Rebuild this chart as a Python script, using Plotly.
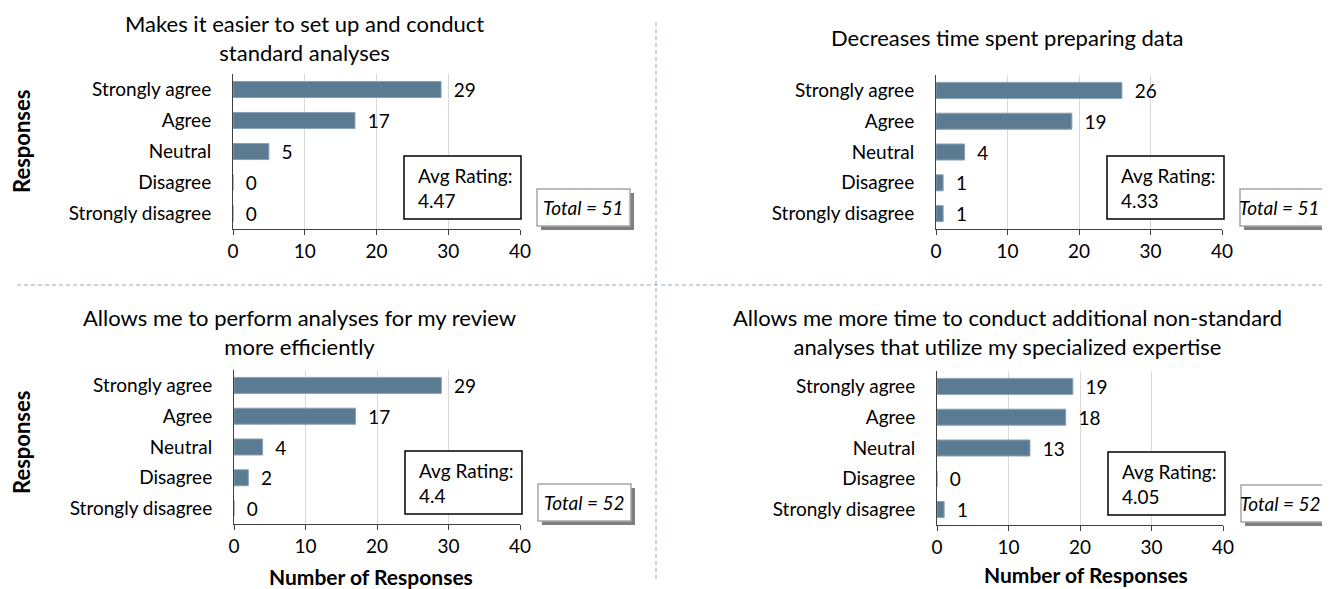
import plotly.graph_objects as go

categories = ["Strongly agree", "Agree", "Neutral", "Disagree", "Strongly disagree"]
titles = [
    "Makes it easier to set up and conduct<br>standard analyses",
    "Decreases time spent preparing data",
    "Allows me to perform analyses for my review<br>more efficiently",
    "Allows me more time to conduct additional non-standard<br>analyses that utilize my specialized expertise",
]
values_1 = [29, 17, 5, 0, 0]
values_2 = [26, 19, 4, 1, 1]
values_3 = [29, 17, 4, 2, 0]
values_4 = [19, 18, 13, 0, 1]
avg_ratings = ["4.47", "4.33", "4.4", "4.05"]
totals = [51, 51, 52, 52]
x_ticks = [0, 10, 20, 30, 40]

# the page body has an 8px margin: the figure starts at page (8, 8)
OFF = 8
W, H = 1330 - OFF, 589 - OFF
FONT = "Lato"
BAR = "#5b7b93"

# panel plot-area geometry in page pixels: (x0, x1, ytop, ybottom)
panels = [
    (233, 520, 74, 229),
    (936, 1222, 75, 229),
    (234, 520, 370, 524),
    (937, 1223, 371, 525),
]
title_pos = [(304, 38), (1007, 37), (299, 332), (1008, 332)]
series = [values_1, values_2, values_3, values_4]

def px(x):
    return (x - OFF) / W

def py(y):
    return 1 - (y - OFF) / H

fig = go.Figure()
shapes = []
annotations = []

for i, (vals, (x0, x1, yt, yb)) in enumerate(zip(series, panels)):
    n = "" if i == 0 else str(i + 1)
    fig.add_trace(go.Bar(
        x=vals, y=categories, orientation="h",
        xaxis="x" + n, yaxis="y" + n,
        marker=dict(color=BAR, line=dict(color="#8aa2b4", width=1)),
        width=0.52,
        text=["\u00a0\u00a0" + str(v) for v in vals],
        textposition="outside", cliponaxis=False, constraintext="none",
        textfont=dict(family=FONT, size=19, color="#000000"),
        hoverinfo="x+y", showlegend=False,
    ))
    xa = dict(
        domain=[px(x0), px(x1)], range=[0, 40], tickvals=x_ticks,
        showgrid=True, gridcolor="#d9d9d9", gridwidth=1,
        showline=True, linecolor="#404040", linewidth=1,
        ticks="outside", ticklen=5, tickcolor="#404040",
        tickfont=dict(family=FONT, size=19, color="#000000"),
        zeroline=False, anchor="y" + n, fixedrange=True, automargin=False,
    )
    ya = dict(
        domain=[py(yb), py(yt)], type="category",
        categoryorder="array", categoryarray=categories,
        range=[4.5, -0.5],
        showline=True, linecolor="#404040", linewidth=1,
        ticks="", ticklabelstandoff=17,
        tickfont=dict(family=FONT, size=19, color="#000000"),
        anchor="x" + n, fixedrange=True, automargin=False,
    )
    fig.update_layout(**{"xaxis" + n: xa, "yaxis" + n: ya})

    # title
    tx, ty = title_pos[i]
    annotations.append(dict(
        x=px(tx), y=py(ty), xref="paper", yref="paper",
        text=titles[i], showarrow=False, xanchor="center", yanchor="middle",
        font=dict(family=FONT, size=22, color="#000000"), align="center",
    ))

    # Avg rating box
    ax0, ax1 = x0 + 171, x0 + 288
    ay0, ay1 = yb - 73, yb - 10
    shapes.append(dict(type="rect", xref="paper", yref="paper",
                       x0=px(ax0), x1=px(ax1), y0=py(ay1), y1=py(ay0),
                       line=dict(color="#000000", width=1.5), fillcolor="#ffffff", layer="above"))
    annotations.append(dict(
        x=px(ax0 + 12), y=py((ay0 + ay1) / 2), xref="paper", yref="paper",
        text="Avg Rating:<br>" + avg_ratings[i], showarrow=False,
        xanchor="left", yanchor="middle", align="left",
        font=dict(family=FONT, size=19, color="#000000"),
    ))

    # Total box with shadow (right column text nudged so it stays in view)
    bx0, bx1 = x0 + 304, x0 + 397
    by0, by1 = yb - 40, yb - 3
    shapes.append(dict(type="rect", xref="paper", yref="paper",
                       x0=px(bx0 + 4), x1=px(bx1 + 4), y0=py(by1 + 4), y1=py(by0 + 4),
                       line=dict(width=0), fillcolor="#7f7f7f", layer="above"))
    shapes.append(dict(type="rect", xref="paper", yref="paper",
                       x0=px(bx0), x1=px(bx1), y0=py(by1), y1=py(by0),
                       line=dict(color="#a6a6a6", width=1.5), fillcolor="#ffffff", layer="above"))
    tcx = (bx0 + bx1) / 2 - (7 if i % 2 == 1 else 0)
    annotations.append(dict(
        x=px(tcx), y=py((by0 + by1) / 2), xref="paper", yref="paper",
        text="<i>Total = " + str(totals[i]) + "</i>", showarrow=False,
        xanchor="center", yanchor="middle",
        font=dict(family=FONT, size=19, color="#000000"),
    ))

# axis titles
for yc in (142, 443):
    annotations.append(dict(
        x=px(21), y=py(yc), xref="paper", yref="paper", text="<b>Responses</b>",
        textangle=-90, showarrow=False, xanchor="center", yanchor="middle",
        font=dict(family=FONT, size=22, color="#000000"),
    ))
for xc, yc in ((371, 576), (1086, 574)):
    annotations.append(dict(
        x=px(xc), y=py(yc), xref="paper", yref="paper", text="<b>Number of Responses</b>",
        showarrow=False, xanchor="center", yanchor="middle",
        font=dict(family=FONT, size=21, color="#000000"),
    ))

# dashed separators
shapes.append(dict(type="line", xref="paper", yref="paper",
                   x0=px(17), x1=1, y0=py(285), y1=py(285),
                   line=dict(color="#93a9be", width=1, dash="4px,3px")))
shapes.append(dict(type="line", xref="paper", yref="paper",
                   x0=px(656), x1=px(656), y0=py(22), y1=py(582),
                   line=dict(color="#93a9be", width=1, dash="4px,3px")))

fig.update_layout(
    width=W, height=H, margin=dict(l=0, r=0, t=0, b=0, autoexpand=False),
    paper_bgcolor="#ffffff", plot_bgcolor="#ffffff",
    shapes=shapes, annotations=annotations, bargap=0.48,
    font=dict(family=FONT),
)

fig.write_html("out.html")
